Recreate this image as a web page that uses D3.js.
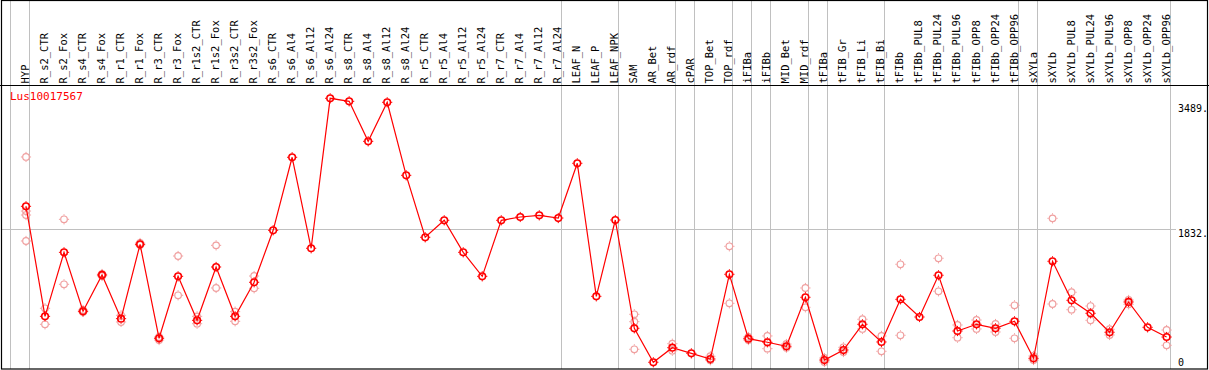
<!DOCTYPE html>
<html>
<head>
<meta charset="utf-8">
<script src="https://cdn.jsdelivr.net/npm/d3@7"></script>
<style>
  html, body { margin: 0; padding: 0; background: #fff; }
  svg { display: block; }
  text { font-family: "DejaVu Sans Mono", "Liberation Mono", monospace; font-size: 10px; }
</style>
</head>
<body>
<svg id="chart" width="1209" height="370"></svg>
<script>
const geneName = "Lus10017567";

const categories = ["HYP","R_s2_CTR","R_s2_Fox","R_s4_CTR","R_s4_Fox","R_r1_CTR","R_r1_Fox","R_r3_CTR","R_r3_Fox",
  "R_r1s2_CTR","R_r1s2_Fox","R_r3s2_CTR","R_r3s2_Fox","R_s6_CTR","R_s6_Al4","R_s6_Al12","R_s6_Al24",
  "R_s8_CTR","R_s8_Al4","R_s8_Al12","R_s8_Al24","R_r5_CTR","R_r5_Al4","R_r5_Al12","R_r5_Al24",
  "R_r7_CTR","R_r7_Al4","R_r7_Al12","R_r7_Al24","LEAF_N","LEAF_P","LEAF_NPK","SAM","AR_Bet","AR_rdf",
  "cPAR","TOP_Bet","TOP_rdf","iFIBa","iFIBb","MID_Bet","MID_rdf","tFIBa","tFIB_Gr","tFIB_Li","tFIB_Bi",
  "tFIBb","tFIBb_PUL8","tFIBb_PUL24","tFIBb_PUL96","tFIBb_OPP8","tFIBb_OPP24","tFIBb_OPP96",
  "sXYLa","sXYLb","sXYLb_PUL8","sXYLb_PUL24","sXYLb_PUL96","sXYLb_OPP8","sXYLb_OPP24","sXYLb_OPP96"];

// first category of each section (a gray separator is drawn before each, and after the last column)
const groupStarts = ["HYP","R_s2_CTR","LEAF_N","SAM","cPAR","TOP_Bet","iFIBa","iFIBb","MID_Bet",
  "tFIBa","tFIB_Gr","tFIBb","sXYLa","sXYLb"];

const means = [2134, 671, 1522, 738, 1221, 640, 1629, 379, 1203,
  618, 1327, 671, 1124, 1815, 2786, 1576, 3570,
  3530, 2998, 3517, 2546, 1722, 1948, 1522, 1203,
  1948, 1992, 2014, 1978, 2706, 937, 1952, 512, 60, 254,
  179, 104, 1230, 374, 326, 273, 924, 90, 223, 565, 330,
  897, 662, 1217, 476, 565, 512, 605,
  113, 1403, 884, 711, 459, 862, 525, 396];

const replicates = [
  [2790, 2071, 2018, 1673], [778, 565], [1961, 1097], [755, 729], [1234, 1207], [685, 596], [1646, 1619], [396, 356], [1473, 951],
  [671, 573], [1615, 1048], [733, 605], [1207, 1044], [], [], [], [],
  [], [], [], [], [], [], [], [],
  [], [], [], [], [], [], [], [698, 600, 233], [], [307, 214],
  [], [140, 86], [1602, 844], [396, 356], [410, 241], [303, 254], [1048, 791], [117, 64], [259, 197], [632, 503], [410, 206],
  [1363, 419], [], [1443, 1004], [556, 387], [622, 503], [569, 463], [818, 379],
  [144, 90], [1974, 835], [991, 759], [808, 618], [499, 423], [888, 831], [], [489, 286]
];

const tickValues = [3489, 1832, 0];
const tickLabels = ["3489.", "1832.", "0"];
const gridValues = [1832];

(function () {
const svg = d3.select("#chart");
const W = 1209;
const fLeft = 1, fRight = 1207, fTop = 0, fBottom = 369, headerY = 85;

const x = d3.scaleBand().domain(categories).range([11, 11 + 19.01 * categories.length]).padding(0);
const px = c => x(c) + 15;
const y = d3.scaleLinear().domain([0, 3489]).range([366.8, 104.4]);

// gray horizontal gridline(s)
svg.selectAll("line.grid").data(gridValues).enter().append("line")
  .attr("x1", fLeft).attr("x2", 1176)
  .attr("y1", d => Math.round(y(d)) + 0.5).attr("y2", d => Math.round(y(d)) + 0.5)
  .attr("stroke", "#c0c0c0").attr("stroke-width", 1);

// gray vertical separators
const sepX = groupStarts.map(c => x(c)).concat([x(categories[categories.length - 1]) + x.bandwidth()]);
svg.selectAll("line.sep").data(sepX).enter().append("line")
  .attr("x1", d => Math.round(d) - 0.5).attr("x2", d => Math.round(d) - 0.5)
  .attr("y1", fTop).attr("y2", fBottom)
  .attr("stroke", "#c0c0c0").attr("stroke-width", 1);

// frame and header rule
svg.append("rect").attr("x", fLeft + 0.5).attr("y", fTop + 0.5)
  .attr("width", fRight - fLeft).attr("height", fBottom - fTop - 0.5)
  .attr("fill", "none").attr("stroke", "#000").attr("stroke-width", 1.2);
svg.append("line").attr("x1", 0).attr("x2", W).attr("y1", headerY + 0.5).attr("y2", headerY + 0.5)
  .attr("stroke", "#000").attr("stroke-width", 1.2);

// column labels (rotated)
svg.selectAll("text.col").data(categories).enter().append("text")
  .attr("transform", c => `translate(${Math.round(px(c) + 3)},${headerY - 1.5}) rotate(-90)`)
  .attr("text-anchor", "start").attr("fill", "#000")
  .style("font-size", "10.5px")
  .text(c => c);

// gene name
svg.append("text").attr("x", 10).attr("y", 100).attr("fill", "#ff0000").style("font-size", "11px").text(geneName);

// tick labels on the right
svg.selectAll("text.tick").data(tickValues).enter().append("text")
  .attr("x", 1178)
  .attr("y", d => Math.min(y(d) + 7.8, 366))
  .attr("fill", "#000")
  .text((d, i) => tickLabels[i]);

function marker(g, cx, cy, color, sw) {
  const r = 3.3;
  g.append("circle").attr("cx", cx).attr("cy", cy).attr("r", r)
    .attr("fill", "none").attr("stroke", color).attr("stroke-width", sw);
  const t = [[0, -1], [0, 1], [-1, 0], [1, 0]];
  t.forEach(([dx, dy]) => {
    g.append("line")
      .attr("x1", cx + dx * (r + 0.5)).attr("y1", cy + dy * (r + 0.5))
      .attr("x2", cx + dx * (r + 1.8)).attr("y2", cy + dy * (r + 1.8))
      .attr("stroke", color).attr("stroke-width", 1);
  });
}

// replicate points
const repG = svg.append("g");
categories.forEach((c, i) => {
  replicates[i].forEach(v => marker(repG, px(c), y(v), "#f0a0a0", 1.2));
});

// mean line
const line = d3.line().x((d, i) => px(categories[i])).y(d => y(d));
svg.append("path").datum(means).attr("d", line)
  .attr("fill", "none").attr("stroke", "#ff0000").attr("stroke-width", 1.2);

// mean points
const meanG = svg.append("g");
categories.forEach((c, i) => marker(meanG, px(c), y(means[i]), "#ff0000", 1.6));
})();
</script>
</body>
</html>
